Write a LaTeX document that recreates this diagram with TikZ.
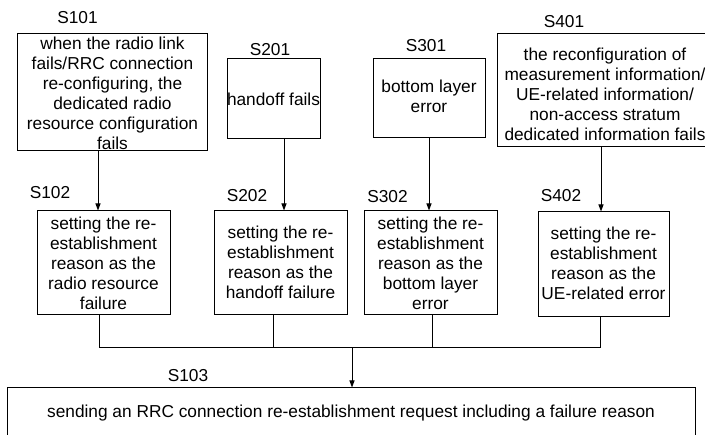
\documentclass[tikz,border=0pt]{standalone}
\usepackage{fontspec}
\setmainfont{Liberation Sans}
\usetikzlibrary{arrows.meta}
\begin{document}
\begin{tikzpicture}[x=1pt,y=-1pt,
  box/.style={draw, line width=1pt, inner sep=0pt, rectangle},
  txt/.style={align=center, inner sep=0pt, font=\fontsize{17.3}{20}\selectfont},
  lbl/.style={inner sep=0pt, font=\fontsize{17.3}{20}\selectfont},
  ln/.style={line width=1pt},
  arr/.style={line width=1pt, -{Triangle[length=7pt,width=5pt]}}]
\useasboundingbox (0,0) rectangle (705,435);
% top row boxes
\node[box, minimum width=190pt, minimum height=117pt] (s101) at (112,92.5) {};
\node[txt] (t101) at (112.5,93) {when the radio link\\fails/RRC connection\\re-configuring, the\\dedicated radio\\resource configuration\\fails};
\node[box, minimum width=93pt, minimum height=80pt] (s201) at (273.5,99) {};
\node[txt] (t201) at (s201) {handoff fails};
\node[box, minimum width=112pt, minimum height=79pt] (s301) at (429,98.5) {};
\node[txt] (t301) at (429,96) {bottom layer\\error};
\node[box, minimum width=216pt, minimum height=113pt] (s401) at (605,90.5) {};
\node[txt] (t401) at (605,94) {the reconfiguration of\\measurement information/\\UE-related information/\\non-access stratum\\dedicated information fails};
% second row
\node[box, minimum width=133pt, minimum height=104pt] (s102) at (103.5,263) {};
\node[txt] (t102) at (s102) {setting the re-\\establishment\\reason as the\\radio resource\\failure};
\node[box, minimum width=133pt, minimum height=104pt] (s202) at (280.5,263) {};
\node[txt] (t202) at (280.5,262) {setting the re-\\establishment\\reason as the\\handoff failure};
\node[box, minimum width=133pt, minimum height=104pt] (s302) at (430.5,263) {};
\node[txt] (t302) at (s302) {setting the re-\\establishment\\reason as the\\bottom layer\\error};
\node[box, minimum width=131pt, minimum height=105pt] (s402) at (603.5,264.5) {};
\node[txt] (t402) at (603.5,263) {setting the re-\\establishment\\reason as the\\UE-related error};
% bottom
\node[box, minimum width=688pt, minimum height=50pt] (s103) at (351,413) {};
\node[txt] (t103) at (s103) {sending an RRC connection re-establishment request including a failure reason};
% labels
\node[lbl] (l101) at (77.5,17.5) {S101};
\node[lbl] (l201) at (270,50) {S201};
\node[lbl] (l301) at (426,46) {S301};
\node[lbl] (l401) at (564,21.5) {S401};
\node[lbl] (l102) at (50,193) {S102};
\node[lbl] (l202) at (247,196) {S202};
\node[lbl] (l302) at (387.5,197) {S302};
\node[lbl] (l402) at (561,196) {S402};
\node[lbl] (l103) at (188,376) {S103};
% connectors
\draw[arr] ([xshift=-14pt]s101.south) -- ([xshift=-14pt]s101.south |- s102.north);
\draw[arr] ([xshift=10.5pt]s201.south) -- ([xshift=10.5pt]s201.south |- s202.north);
\draw[arr] (s301.south) -- (s301.south |- s302.north);
\draw[arr] ([xshift=-4pt]s401.south) -- ([xshift=-4pt]s401.south |- s402.north);
\coordinate (j) at (352,348);
\draw[ln] ([xshift=-4.5pt]s102.south) |- ([xshift=-3.5pt]s402.south |- j) -- ([xshift=-3.5pt]s402.south);
\draw[ln] ([xshift=-7.5pt]s202.south) -- ([xshift=-7.5pt]s202.south |- j);
\draw[ln] ([xshift=1.5pt]s302.south) -- ([xshift=1.5pt]s302.south |- j);
\draw[arr] (j) -- (j |- s103.north);
\end{tikzpicture}
\end{document}
